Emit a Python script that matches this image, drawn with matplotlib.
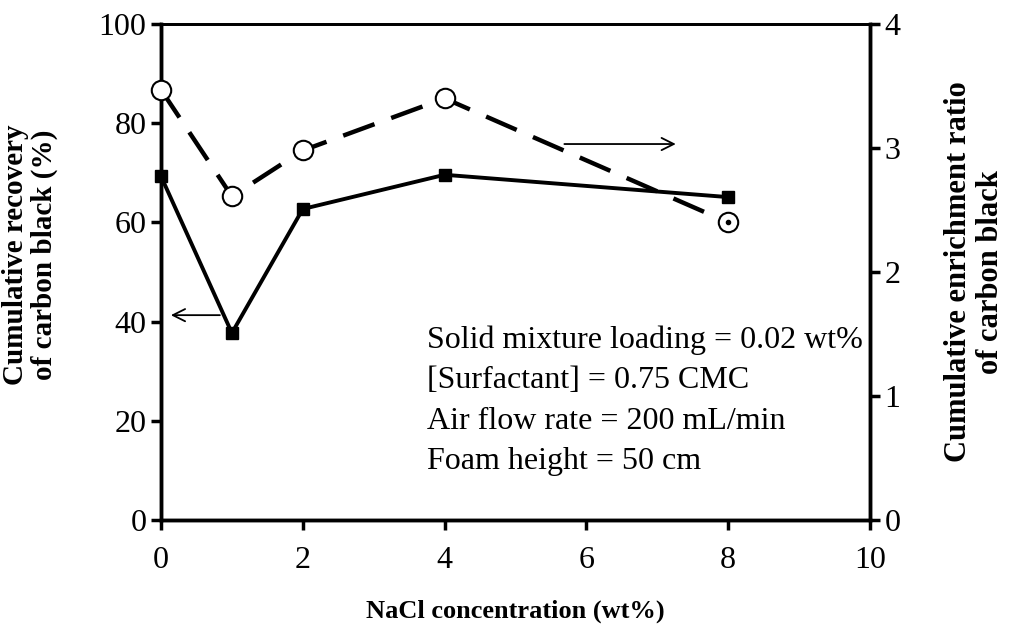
import matplotlib.pyplot as plt
import matplotlib

matplotlib.rc('font', family='Liberation Serif', size=20)

# data
nacl = [0, 1, 2, 4, 8]
recovery = [69.3, 37.7, 62.7, 69.6, 65.1]        # left axis, %
enrichment = [3.47, 2.61, 2.98, 3.40, 2.40]     # right axis
conditions = ['Solid mixture loading = 0.02 wt%',
              '[Surfactant] = 0.75 CMC',
              'Air flow rate = 200 mL/min',
              'Foam height = 50 cm']

fig = plt.figure(figsize=(10.09, 6.32), dpi=100)
ax = fig.add_axes([161 / 1009, 1 - 520 / 632, 709 / 1009, 496 / 632])
ax2 = ax.twinx()

ax.plot(nacl, recovery, color='black', linewidth=2.8, marker='s', markersize=8,
        clip_on=False, zorder=3)
ax2.plot(nacl, enrichment, color='black', linewidth=3.2, dashes=(7.5, 4),
         marker='o', markersize=14, markerfacecolor='white', markeredgewidth=1.5,
         clip_on=False, zorder=3)
ax2.plot(nacl[-1:], enrichment[-1:], linestyle='none', marker='o',
         markersize=3, color='black', zorder=4)

ax.set_xlim(0, 10)
ax.set_ylim(0, 100)
ax2.set_ylim(0, 4)
ax.set_xticks(range(0, 11, 2))
ax.set_yticks(range(0, 101, 20))
ax2.set_yticks(range(0, 5))

for a in (ax, ax2):
    for s in a.spines.values():
        s.set_linewidth(2.5)
    a.spines['top'].set_linewidth(2)
    a.tick_params(width=2.5, length=7, labelsize=23)
ax.tick_params(axis='x', pad=12)

ax.set_xlabel('NaCl concentration (wt%)', fontweight='bold', fontsize=19)
ax.xaxis.set_label_coords(0.5, -0.16)
ax.set_ylabel('Cumulative recovery\nof carbon black (%)', fontweight='bold',
              fontsize=21, linespacing=1.1)
ax.yaxis.set_label_coords(-0.145, 0.535)
ax2.set_ylabel('Cumulative enrichment ratio\nof carbon black', fontweight='bold',
               fontsize=22, rotation=90, linespacing=1.1)
ax2.yaxis.set_label_coords(1.105, 0.5)

# arrows indicating which axis
ax.annotate('', xy=(7.3, 75.8), xytext=(5.65, 75.8),
            arrowprops=dict(arrowstyle='->', lw=1.3, color='black', mutation_scale=22))
ax.annotate('', xy=(0.1, 41.3), xytext=(0.87, 41.3),
            arrowprops=dict(arrowstyle='->', lw=1.3, color='black', mutation_scale=22))

for i, line in enumerate(conditions):
    ax.text(3.75, 36.3 - i * 8.2, line, fontsize=23, va='center', ha='left')

plt.savefig('out.png', dpi=100)
